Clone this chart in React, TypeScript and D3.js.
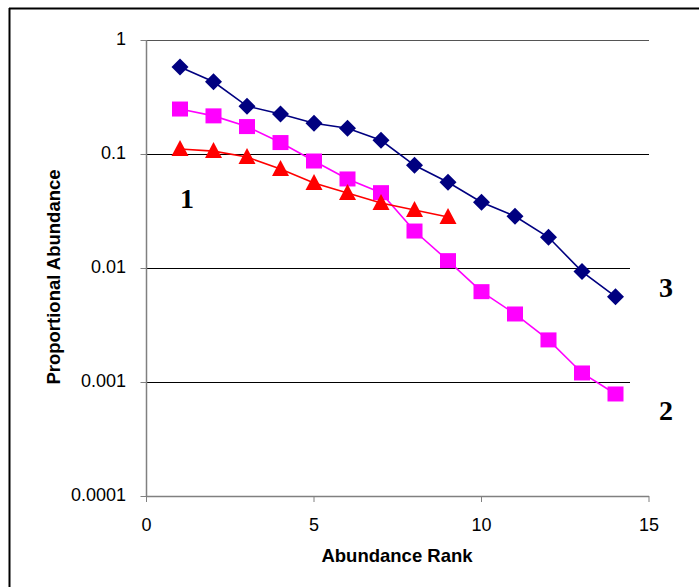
import React from "react";
import * as d3 from "d3";

const ranks = [1, 2, 3, 4, 5, 6, 7, 8, 9, 10, 11, 12, 13, 14];
const series3 = [0.579, 0.43, 0.263, 0.224, 0.186, 0.168, 0.132, 0.0796, 0.0565, 0.0377, 0.0284, 0.0186, 0.0093, 0.0056];
const series2 = [0.248, 0.216, 0.174, 0.126, 0.0868, 0.0604, 0.0458, 0.0211, 0.0116, 0.0062, 0.00395, 0.00234, 0.0012, 0.000785];
const series1 = [0.1106, 0.106, 0.094, 0.0739, 0.0557, 0.0455, 0.0372, 0.0323, 0.028];
const yTicks = [1, 0.1, 0.01, 0.001, 0.0001];
const yTickLabels = ["1", "0.1", "0.01", "0.001", "0.0001"];
const xTicks = [0, 5, 10, 15];
const seriesLabels = [
  { text: "1", x: 1.0, y: 0.0336 },
  { text: "3", x: 15.3, y: 0.00557 },
  { text: "2", x: 15.3, y: 0.000464 },
];

export default function App() {
  const W = 699, H = 587;
  const x = d3.scaleLinear().domain([0, 15]).range([146.5, 649]);
  const y = d3.scaleLog().domain([0.0001, 1]).range([496, 40]);
  const line = d3.line<[number, number]>().x((d) => x(d[0])).y((d) => y(d[1]));
  const pts = (vals: number[]) => vals.map((v, i) => [ranks[i], v] as [number, number]);
  const sans = "Arial, 'Liberation Sans', sans-serif";
  const serif = "'Times New Roman', 'Liberation Serif', serif";
  const s = 8.5;
  return (
    <svg width={W} height={H} style={{ position: "absolute", left: 0, top: 0 }}>
      <rect x={0} y={0} width={W} height={H} fill="#fff" />
      <line x1={9} y1={8.5} x2={W} y2={8.5} stroke="#000" strokeWidth={2} />
      <line x1={9.5} y1={8} x2={9.5} y2={H} stroke="#000" strokeWidth={2} />
      {yTicks.map((t, i) => (
        <g key={t}>
          {i < 4 && (
            <line x1={x(0)} x2={x(15)} y1={y(t) + 0.5} y2={y(t) + 0.5} stroke={i === 0 ? "#555" : "#000"} strokeWidth={1} />
          )}
          <line x1={x(0) - 6} x2={x(0)} y1={y(t) + 0.5} y2={y(t) + 0.5} stroke="#808080" strokeWidth={1} />
          <text x={126} y={y(t) + 5} textAnchor="end" fontFamily={sans} fontSize={18} fill="#000">
            {yTickLabels[i]}
          </text>
        </g>
      ))}
      <line x1={x(0)} x2={x(0)} y1={y(1)} y2={y(0.0001)} stroke="#808080" strokeWidth={1.5} />
      <line x1={x(0)} x2={x(15)} y1={y(0.0001) + 0.5} y2={y(0.0001) + 0.5} stroke="#808080" strokeWidth={1.5} />
      {xTicks.map((t) => (
        <g key={t}>
          <line x1={x(t)} x2={x(t)} y1={y(0.0001)} y2={y(0.0001) + 6} stroke="#808080" strokeWidth={1} />
          <text x={x(t)} y={531} textAnchor="middle" fontFamily={sans} fontSize={18} fill="#000">
            {t}
          </text>
        </g>
      ))}
      <text x={397} y={562} textAnchor="middle" fontFamily={sans} fontSize={18.5} fontWeight="bold" fill="#000">
        Abundance Rank
      </text>
      <text
        transform={`translate(60,277) rotate(-90)`}
        textAnchor="middle"
        fontFamily={sans}
        fontSize={18.5}
        fontWeight="bold"
        fill="#000"
      >
        Proportional Abundance
      </text>
      {/* white boxes behind labels 3 and 2 */}
      <rect x={630} y={y(0.02)} width={60} height={y(0.0005) - y(0.02)} fill="#fff" />
      {/* series 3 */}
      <path d={line(pts(series3)) || ""} fill="none" stroke="#000080" strokeWidth={1.6} />
      {pts(series3).map((p, i) => (
        <path
          key={i}
          d={`M${x(p[0])},${y(p[1]) - s}L${x(p[0]) + s},${y(p[1])}L${x(p[0])},${y(p[1]) + s}L${x(p[0]) - s},${y(p[1])}Z`}
          fill="#000080"
        />
      ))}
      {/* series 2 */}
      <path d={line(pts(series2)) || ""} fill="none" stroke="#FF00FF" strokeWidth={1.6} />
      {pts(series2).map((p, i) => (
        <rect key={i} x={x(p[0]) - 8} y={y(p[1]) - 7.5} width={16} height={15} fill="#FF00FF" />
      ))}
      {/* series 1 */}
      <path d={line(pts(series1)) || ""} fill="none" stroke="#FF0000" strokeWidth={1.6} />
      {pts(series1).map((p, i) => (
        <path
          key={i}
          d={`M${x(p[0])},${y(p[1]) - 9}L${x(p[0]) + 8.5},${y(p[1]) + 7}L${x(p[0]) - 8.5},${y(p[1]) + 7}Z`}
          fill="#FF0000"
        />
      ))}
      {seriesLabels.map((l) => (
        <text
          key={l.text}
          x={x(l.x)}
          y={y(l.y)}
          textAnchor="start"
          fontFamily={serif}
          fontSize={28}
          fontWeight="bold"
          fill="#000"
        >
          {l.text}
        </text>
      ))}
    </svg>
  );
}
